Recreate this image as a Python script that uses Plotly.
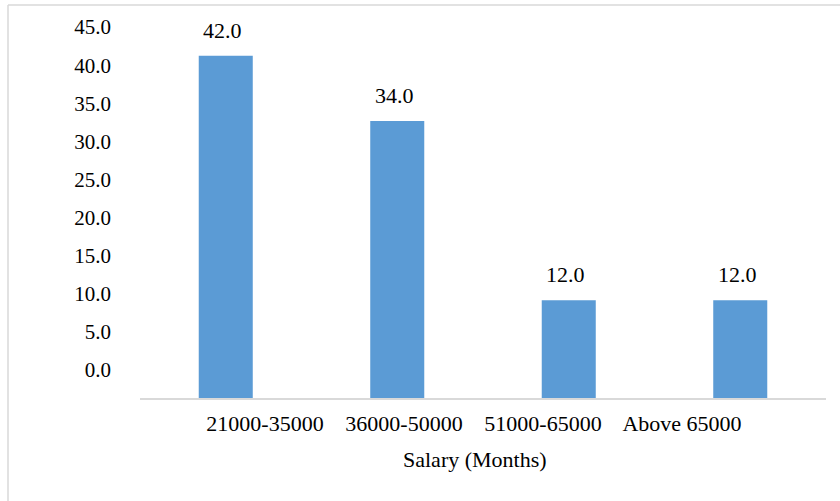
import plotly.graph_objects as go

# Salary bands and share of respondents (%)
categories = ["21000-35000", "36000-50000", "51000-65000", "Above 65000"]
values = [42.0, 34.0, 12.0, 12.0]

# Scale labels shown along the left side
scale_ticks = [0, 5, 10, 15, 20, 25, 30, 35, 40, 45]

BAR_COLOR = "#5B9BD5"
TEXT_COLOR = "#000000"
FONT = "Liberation Serif"

W, H = 840, 501
M_L, M_R, M_T, M_B = 140, 14, 20, 103
plot_w = W - M_L - M_R
plot_h = H - M_T - M_B

fig = go.Figure()

fig.add_trace(go.Bar(
    x=categories,
    y=values,
    marker=dict(color=BAR_COLOR, line=dict(width=0)),
    width=0.315,
    hoverinfo="x+y",
))

# Invisible trace carrying the labelled scales on the secondary axes
fig.add_trace(go.Scatter(
    x=categories, y=values, xaxis="x2", yaxis="y2",
    mode="markers", marker=dict(opacity=0), hoverinfo="skip", showlegend=False,
))

# Value labels above each bar
for c, v in zip(categories, values):
    fig.add_annotation(
        x=c, y=v, text=f"{v:.1f}", showarrow=False,
        yanchor="bottom", yshift=11, xshift=-3,
        font=dict(family=FONT, size=22, color=TEXT_COLOR),
    )


def px_to_paper_x(px):
    return (px - M_L) / plot_w


def px_to_paper_y(py):
    return (H - M_B - py) / plot_h


# Axis title
fig.add_annotation(
    xref="paper", yref="paper",
    x=px_to_paper_x(475), y=px_to_paper_y(459),
    text="Salary (Months)", showarrow=False,
    xanchor="center", yanchor="middle",
    font=dict(family=FONT, size=22, color=TEXT_COLOR),
)

# Light frame along the top and left edges
frame = dict(color="#d9d9d9", width=1.5)
fig.add_shape(type="line", xref="paper", yref="paper",
              x0=px_to_paper_x(8), x1=px_to_paper_x(8),
              y0=px_to_paper_y(5), y1=px_to_paper_y(H + 2), line=frame)
fig.add_shape(type="line", xref="paper", yref="paper",
              x0=px_to_paper_x(8), x1=px_to_paper_x(W + 2),
              y0=px_to_paper_y(5), y1=px_to_paper_y(5), line=frame)

fig.update_layout(
    width=W, height=H,
    margin=dict(l=M_L, r=M_R, t=M_T, b=M_B, pad=0),
    paper_bgcolor="white", plot_bgcolor="white",
    showlegend=False,
    font=dict(family=FONT, size=22, color=TEXT_COLOR),
    xaxis=dict(
        type="category",
        showline=True, linecolor="#d9d9d9", linewidth=2,
        showgrid=False, zeroline=False, ticks="",
        showticklabels=False,
        range=[-0.5, 3.5],
    ),
    xaxis2=dict(
        type="category", overlaying="x", side="bottom", anchor="y",
        range=[-0.899, 4.036],
        showline=False, showgrid=False, zeroline=False, ticks="",
        tickfont=dict(family=FONT, size=22, color=TEXT_COLOR),
        ticklabelstandoff=10,
    ),
    yaxis=dict(
        range=[0, plot_h / 8.15],
        showline=False, showgrid=False, zeroline=False,
        showticklabels=False, ticks="",
    ),
    yaxis2=dict(
        overlaying="y", side="left", anchor="x",
        range=[-28 / 7.62, -28 / 7.62 + plot_h / 7.62],
        tickvals=scale_ticks, tickformat=".1f",
        showline=False, showgrid=False, zeroline=False, ticks="",
        tickfont=dict(family=FONT, size=21, color=TEXT_COLOR),
        ticklabelstandoff=28,
    ),
)

fig.write_html("out.html")
